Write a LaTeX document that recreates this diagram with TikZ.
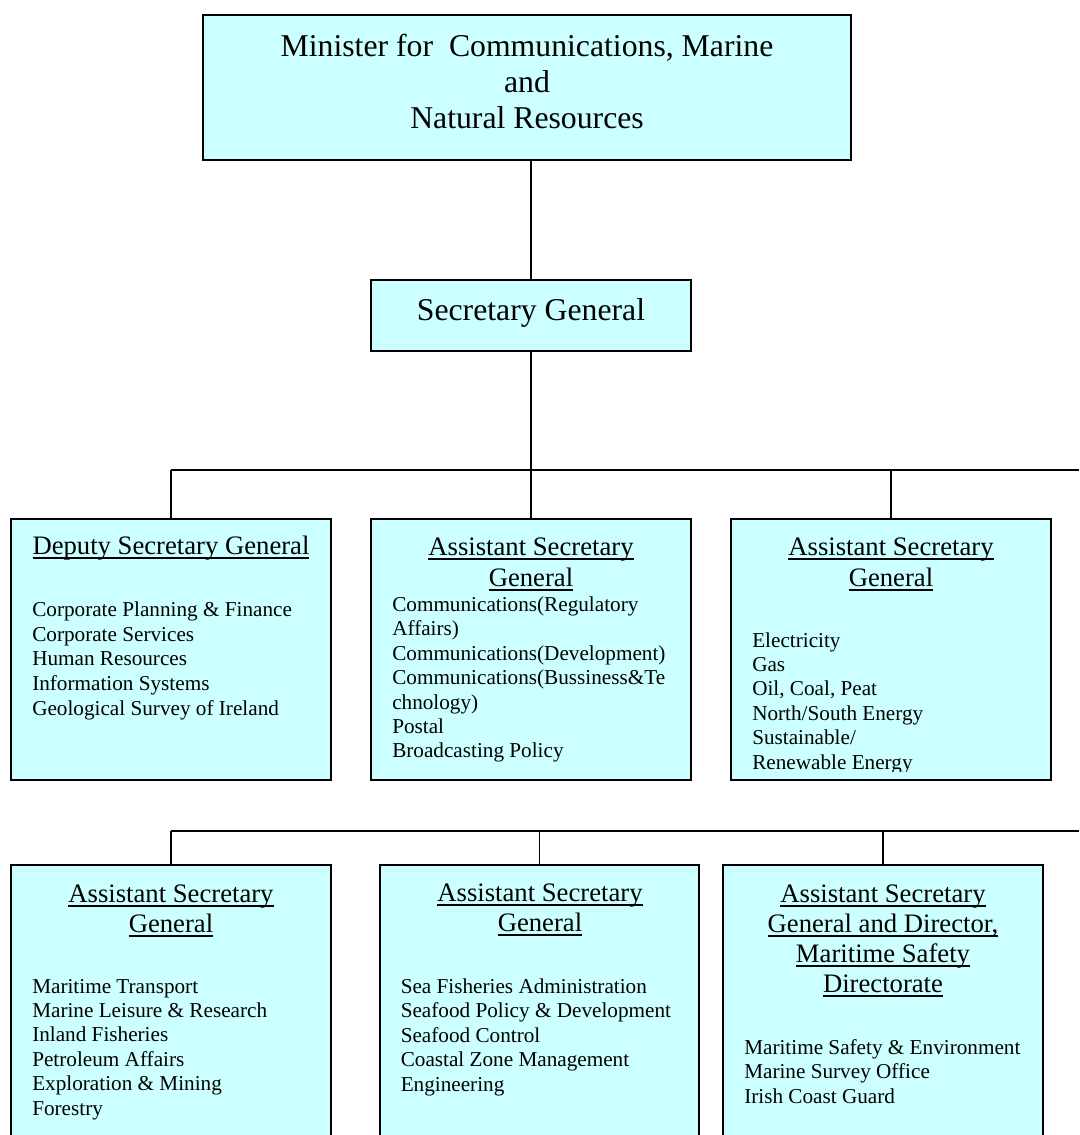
\documentclass[tikz,border=0pt]{standalone}
\usepackage{fontspec}
\setmainfont{Liberation Serif}
\definecolor{boxcyan}{RGB}{204,255,255}
\newcommand\bodyfont{\fontsize{15.9pt}{18pt}\selectfont}
\newcommand\hdrfont{\fontsize{20pt}{23pt}\selectfont}
\newcommand\topfont{\fontsize{23.8pt}{27pt}\selectfont}
% underlined heading text: a rule just below the baseline, as wide as the text
\newsavebox\hulbox
\newcommand\hul[1]{\sbox\hulbox{#1}\rlap{\rule[-3.4pt]{\wd\hulbox}{0.9pt}}\usebox\hulbox}
\begin{document}
\begin{tikzpicture}[x=0.75pt,y=-0.75pt,
  box/.style args={#1x#2}{draw=black, line width=1.5pt, fill=boxcyan,
    anchor=north west, inner sep=0pt, outer sep=0pt,
    minimum width=#1*0.75pt, minimum height=#2*0.75pt},
  link/.style={draw=black, line width=1.1pt},
  item/.style={inner sep=0pt, anchor=base west, font=\bodyfont},
  head/.style={inner sep=0pt, anchor=base, font=\hdrfont},
  title/.style={inner sep=0pt, anchor=base, font=\topfont}]
\path[use as bounding box] (0,0) rectangle (1079,1135);
\clip (0,0) rectangle (1079,1135);

% boxes
\node[box=648x145] (min) at (203,15) {};
\node[box=320x71]  (sec) at (371,280) {};
\node[box=320x261] (b1) at (11,519) {};
\node[box=320x261] (b2) at (371,519) {};
\node[box=320x261] (b3) at (731,519) {};
\node[box=320x300] (b4) at (11,865) {};
\node[box=319x300] (b5) at (380,865) {};
\node[box=320x300] (b6) at (723,865) {};

% junction points
\coordinate (j1) at (531,470);
\coordinate (r1a) at (171,470);
\coordinate (r1e) at (1079,470);
\coordinate (r2a) at (171,831);
\coordinate (r2e) at (1079,831);
% lower edge of the text frame in the energy box
\coordinate (b3cut) at (1051,771);

% connectors
\draw[link] (min.south -| sec.north) -- (sec.north);
\draw[link] (sec.south) -- (j1);
\draw[link] (r1a) -- (r1e);
\draw[link] (r1a) -- (b1.north);
\draw[link] (b2.north |- r1a) -- (b2.north);
\draw[link] (b3.north |- r1a) -- (b3.north);
\draw[link] (r2a) -- (r2e);
\draw[link] (r2a) -- (b4.north);
\draw[link] (b5.north |- r2a) -- (b5.north);
\draw[link] (b6.north |- r2a) -- (b6.north);

% top titles
\node[title] (mint1) at (527,56) {Minister for \ Communications, Marine};
\node[title] (mint2) at (527,92) {and};
\node[title] (mint3) at (527,128) {Natural Resources};
\node[title] (sect) at (531,320) {Secretary General};

% headings
\node[head] (b1h1) at (171,554) {\hul{Deputy Secretary General}};
\node[head] (b2h1) at (531,555) {\hul{Assistant Secretary}};
\node[head] (b2h2) at (531,586) {\hul{General}};
\node[head] (b3h1) at (891,555) {\hul{Assistant Secretary}};
\node[head] (b3h2) at (891,586) {\hul{General}};
\node[head] (b4h1) at (171,902) {\hul{Assistant Secretary}};
\node[head] (b4h2) at (171,932) {\hul{General}};
\node[head] (b5h1) at (540,901) {\hul{Assistant Secretary}};
\node[head] (b5h2) at (540,931) {\hul{General}};
\node[head] (b6h1) at (883,902) {\hul{Assistant Secretary}};
\node[head] (b6h2) at (883,932) {\hul{General and Director,}};
\node[head] (b6h3) at (883,962) {\hul{Maritime Safety}};
\node[head] (b6h4) at (883,992) {\hul{Directorate}};

% item lists
\foreach \t [count=\i from 0] in {Corporate Planning \& Finance, Corporate Services,
    Human Resources, Information Systems, Geological Survey of Ireland}
  \node[item] (b1t\i) at (32,616.7+24.6*\i) {\t};
\foreach \t [count=\i from 0] in {Communications(Regulatory, Affairs),
    Communications(Development), Communications(Bussiness\&Te, chnology),
    Postal, Broadcasting Policy}
  \node[item] (b2t\i) at (392,611.5+24.4*\i) {\t};
\begin{scope}
  \clip (b3.north west) rectangle (b3cut);
  \foreach \t [count=\i from 0] in {Electricity, Gas, {Oil, Coal, Peat},
      North/South Energy, Sustainable/, Renewable Energy}
    \node[item] (b3t\i) at (752,647+24.4*\i) {\t};
\end{scope}
\foreach \t [count=\i from 0] in {Maritime Transport, Marine Leisure \& Research,
    Inland Fisheries, Petroleum Affairs, Exploration \& Mining, Forestry}
  \node[item] (b4t\i) at (32,993+24.4*\i) {\t};
\foreach \t [count=\i from 0] in {Sea Fisheries Administration,
    Seafood Policy \& Development, Seafood Control, Coastal Zone Management,
    Engineering}
  \node[item] (b5t\i) at (400.5,993+24.6*\i) {\t};
\foreach \t [count=\i from 0] in {Maritime Safety \& Environment,
    Marine Survey Office, Irish Coast Guard}
  \node[item] (b6t\i) at (744,1054+24.5*\i) {\t};
\end{tikzpicture}
\end{document}
